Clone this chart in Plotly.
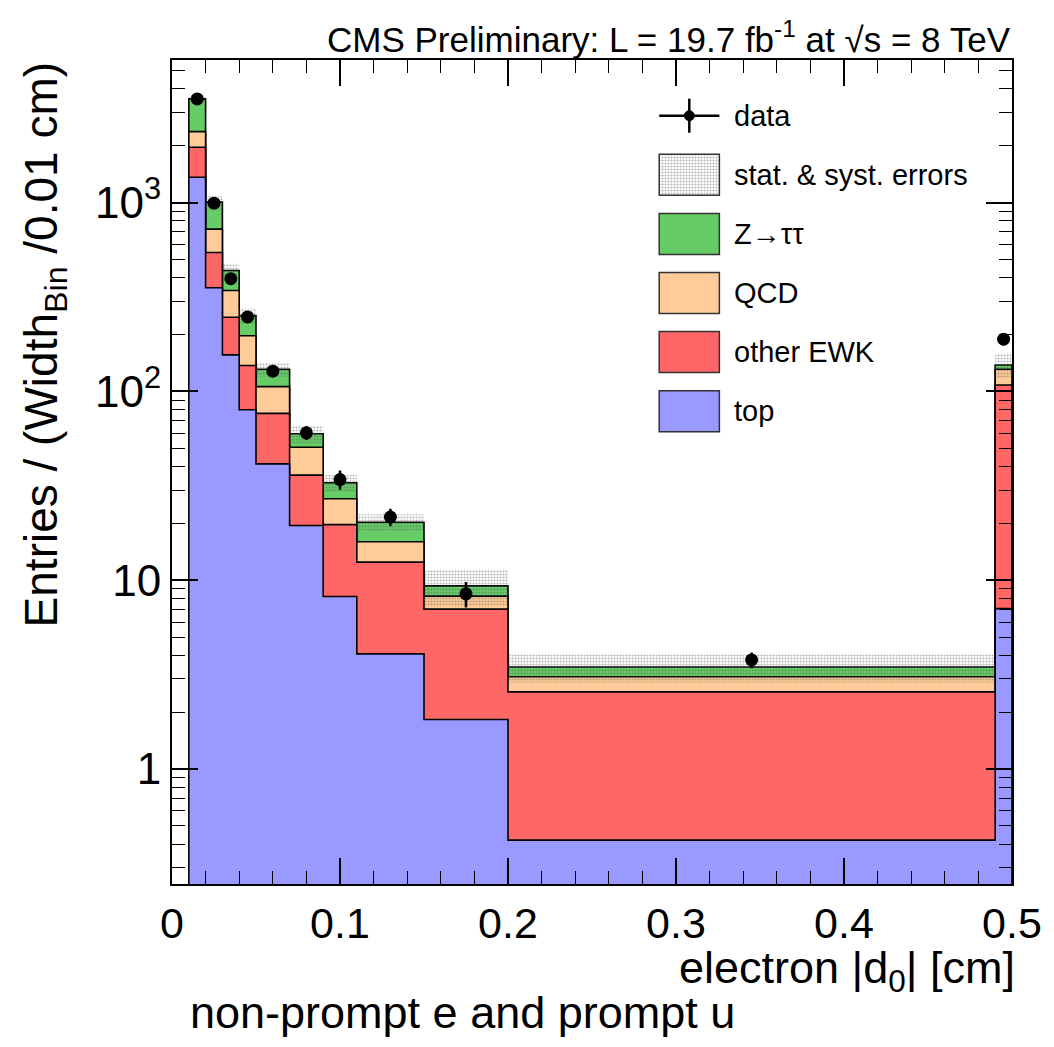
import numpy as np
import plotly.graph_objects as go

# ---------------- data ----------------
bin_edges = [0.01, 0.02, 0.03, 0.04, 0.05, 0.07, 0.09, 0.11, 0.15, 0.20, 0.49, 0.50]

top_vals = [1362, 354, 156, 80, 41.3, 19.5, 8.2, 4.07, 1.83, 0.42, 7.07]
ewk_vals = [601, 190, 91, 57, 35.2, 16.5, 11.5, 8.4, 5.2, 2.14, 101]
qcd_vals = [413, 179, 95, 60, 29.5, 14.6, 7.3, 3.5, 1.2, 0.52, 23]
ztt_vals = [1164, 282, 95, 55, 25, 9.0, 5.8, 4.3, 1.1, 0.39, 7]

data_vals = [3540, 993, 395, 248, 128, 60.3, 34.1, 21.6, 8.47, 3.78, 189]
data_errs = [59, 31, 20, 16, 8, 5, 4, 2.3, 1.3, 0.36, 13.7]
band_errs = [175, 75, 37, 24, 11, 6.4, 3.4, 2.1, 2.0, 0.6, 20]

y_tickvals = [1, 10, 100, 1000]
y_ticktext = ["1", "10", "10<sup>2</sup>", "10<sup>3</sup>"]
x_tickvals = [0, 0.1, 0.2, 0.3, 0.4, 0.5]
x_ticktext = ["0", "0.1", "0.2", "0.3", "0.4", "0.5"]

legend_labels = ["data", "stat. & syst. errors", "Z\u2192\u03c4\u03c4", "QCD", "other EWK", "top"]

# ---------------- styles ----------------
C_TOP = "#9999FF"
C_EWK = "#FF6666"
C_QCD = "#FFCC99"
C_ZTT = "#66CC66"
FONT = "Liberation Sans, Arial, Helvetica, sans-serif"
PATTERN = dict(shape=".", fgcolor="rgba(80,80,80,0.85)", bgcolor="rgba(255,255,255,0)",
               size=3, solidity=0.4, fillmode="overlay")

W, H = 1054, 1047
ML, MR, MT, MB = 172, 36, 60, 163
PW, PH = W - ML - MR, H - MT - MB


def px(xp):
    return (xp - ML) / PW


def py(yp):
    return (H - MB - yp) / PH


edges = np.array(bin_edges)
centers = 0.5 * (edges[:-1] + edges[1:])
stack = np.cumsum(np.array([top_vals, ewk_vals, qcd_vals, ztt_vals], dtype=float), axis=0)
total = stack[-1]
BASE = 1e-3


def step_polygon(vals):
    xs, ys = [edges[0]], [BASE]
    for i, v in enumerate(vals):
        xs += [edges[i], edges[i + 1]]
        ys += [v, v]
    xs.append(edges[-1])
    ys.append(BASE)
    return xs, ys


fig = go.Figure()

for vals, col in [(stack[3], C_ZTT), (stack[2], C_QCD), (stack[1], C_EWK), (stack[0], C_TOP)]:
    xs, ys = step_polygon(vals)
    fig.add_trace(go.Scatter(x=xs, y=ys, mode="lines", fill="toself", fillcolor=col,
                             line=dict(color="black", width=1.6), hoverinfo="skip",
                             showlegend=False))

# error band
bx, by = [], []
for i in range(len(total)):
    lo, hi = total[i] - band_errs[i], total[i] + band_errs[i]
    e0, e1 = edges[i], edges[i + 1]
    bx += [e0, e1, e1, e0, e0, None]
    by += [lo, lo, hi, hi, lo, None]
fig.add_trace(go.Scatter(x=bx, y=by, mode="lines", fill="toself",
                         fillcolor="rgba(0,0,0,0)", fillpattern=PATTERN,
                         line=dict(width=0), hoverinfo="skip", showlegend=False))

# data
fig.add_trace(go.Scatter(x=centers, y=data_vals, mode="markers",
                         marker=dict(color="black", size=13),
                         error_y=dict(type="data", array=data_errs, color="black",
                                      thickness=2.5, width=0),
                         showlegend=False))

# ---------------- manual legend ----------------
shapes = []
bx0, bx1 = px(662.7), px(723.3)
row0, dy = 115.7, 59.1
shapes.append(dict(type="line", xref="paper", yref="paper", x0=bx0, x1=bx1,
                   y0=py(row0), y1=py(row0), line=dict(color="black", width=2.5)))
shapes.append(dict(type="line", xref="paper", yref="paper", x0=px(693), x1=px(693),
                   y0=py(row0 - 17), y1=py(row0 + 17), line=dict(color="black", width=2.5)))
shapes.append(dict(type="circle", xref="paper", yref="paper", x0=px(688), x1=px(698),
                   y0=py(row0 + 5), y1=py(row0 - 5), fillcolor="black", line=dict(color="black", width=1)))
for k, col in zip(range(1, 6), ["rgba(0,0,0,0)", C_ZTT, C_QCD, C_EWK, C_TOP]):
    yc = row0 + dy * k
    shapes.append(dict(type="rect", xref="paper", yref="paper", x0=bx0, x1=bx1,
                       y0=py(yc + 20.5), y1=py(yc - 20.5), fillcolor=col,
                       line=dict(color="#333333", width=1.5)))

# patterned legend box drawn on a hidden overlay axis pair spanning the plot area
yc1 = row0 + dy
fig.add_trace(go.Scatter(x=[bx0, bx1, bx1, bx0, bx0],
                         y=[py(yc1 + 20.5), py(yc1 + 20.5), py(yc1 - 20.5), py(yc1 - 20.5), py(yc1 + 20.5)],
                         xaxis="x2", yaxis="y2", mode="lines", fill="toself",
                         fillcolor="rgba(245,245,245,1)", fillpattern=PATTERN,
                         line=dict(width=0), hoverinfo="skip", showlegend=False))

annotations = []
for k, lab in enumerate(legend_labels):
    annotations.append(dict(text=lab, xref="paper", yref="paper", x=px(736), y=py(row0 + dy * k),
                            xanchor="left", yanchor="middle", showarrow=False,
                            font=dict(size=29, color="black", family=FONT)))

annotations.append(dict(text="CMS Preliminary: L = 19.7 fb<sup>-1</sup> at \u221as = 8 TeV",
                        xref="paper", yref="paper", x=px(1019), y=py(37),
                        xanchor="right", yanchor="middle", showarrow=False,
                        font=dict(size=35, color="black", family=FONT)))
annotations.append(dict(text="electron |d<sub>0</sub>| [cm]", xref="paper", yref="paper",
                        x=px(1023), y=py(970), xanchor="right", yanchor="middle", showarrow=False,
                        font=dict(size=45, color="black", family=FONT)))
annotations.append(dict(text="Entries / (Width<sub>Bin</sub> /0.01 cm)", xref="paper", yref="paper",
                        x=px(44), y=1.0, xanchor="center", yanchor="top", textangle=-90,
                        showarrow=False, font=dict(size=46, color="black", family=FONT)))
annotations.append(dict(text="non-prompt e and prompt u", xref="paper", yref="paper",
                        x=px(188), y=py(1012), xanchor="left", yanchor="middle", showarrow=False,
                        font=dict(size=45, color="black", family=FONT)))

minor_y = [m * 10.0 ** d for d in range(-1, 4) for m in range(2, 10) if 0.25 <= m * 10.0 ** d <= 5600]

fig.update_layout(
    width=W, height=H,
    margin=dict(l=ML, r=MR, t=MT, b=MB),
    paper_bgcolor="white", plot_bgcolor="white",
    font=dict(family=FONT, color="black"),
    shapes=shapes, annotations=annotations,
    showlegend=False,
    xaxis=dict(range=[0, 0.5], tickvals=x_tickvals, ticktext=x_ticktext,
               ticks="inside", ticklen=26, tickwidth=1.5, tickcolor="black",
               showline=True, linecolor="black", linewidth=2, mirror="ticks",
               showgrid=False, zeroline=False,
               tickfont=dict(size=43, family=FONT),
               minor=dict(ticks="inside", ticklen=13, tickwidth=1.2, tickcolor="black",
                          dtick=0.02, showgrid=False)),
    yaxis=dict(type="log", range=[np.log10(0.246), np.log10(5690)],
               tickvals=y_tickvals, ticktext=y_ticktext,
               ticks="inside", ticklen=26, tickwidth=1.5, tickcolor="black",
               showline=True, linecolor="black", linewidth=2, mirror="ticks",
               showgrid=False, zeroline=False,
               tickfont=dict(size=44, family=FONT),
               minor=dict(ticks="inside", ticklen=13, tickwidth=1.2, tickcolor="black",
                          tickvals=minor_y, showgrid=False)),
    xaxis2=dict(range=[0, 1], overlaying="x", anchor="y2", visible=False, fixedrange=True),
    yaxis2=dict(range=[0, 1], overlaying="y", anchor="x2", visible=False, fixedrange=True),
)

fig.write_html("out.html", config={"displayModeBar": False},
               post_script="document.body.style.margin='0px';")
